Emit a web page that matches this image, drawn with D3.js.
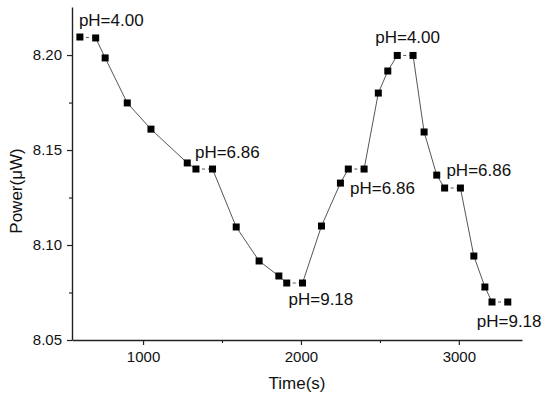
<!DOCTYPE html>
<html>
<head>
<meta charset="utf-8">
<script src="https://cdn.jsdelivr.net/npm/d3@7"></script>
<style>
  body { margin: 0; background: #fff; }
  text { font-family: Arial, "Liberation Sans", sans-serif; fill: #111; }
</style>
</head>
<body>
<svg id="chart" width="550" height="399"></svg>
<script>
// time (s) and power (uW)
const times = [600, 700, 760, 900, 1050, 1280, 1335, 1440, 1590, 1735, 1860, 1910, 2010,
  2130, 2250, 2300, 2400, 2490, 2550, 2610, 2710, 2780, 2860, 2910, 3010, 3095, 3165, 3210, 3310];
const power = [8.2095, 8.209, 8.1985, 8.1748, 8.161, 8.1432, 8.140, 8.140, 8.1095, 8.0916, 8.0837, 8.080, 8.080,
  8.110, 8.1326, 8.140, 8.140, 8.180, 8.1916, 8.1998, 8.1998, 8.1595, 8.1368, 8.130, 8.130, 8.0942, 8.0779, 8.070, 8.070];
// segments (start index) drawn dashed, where the buffer was swapped
const dashedSegs = [0, 6, 11, 15, 19, 23, 27];

const labelText = ["pH=4.00", "pH=6.86", "pH=9.18", "pH=6.86", "pH=4.00", "pH=6.86", "pH=9.18"];
const labelAt = [0, 6, 12, 16, 19, 24, 28];
const labelOffset = [[-1, -11], [-1, -11], [-14, 22], [-14, 25], [-22, -12], [-14, -12], [-31, 25]];

const xTicks = [1000, 2000, 3000];
const xMinor = [1500, 2500];
const yTicks = [8.05, 8.10, 8.15, 8.20];
const yMinor = [8.075, 8.125, 8.175];

const margin = { left: 72, top: 7, right: 28, bottom: 59 };
const svg = d3.select("#chart");
const W = +svg.attr("width"), H = +svg.attr("height");

const x = d3.scaleLinear().domain([550, 3400]).range([margin.left, W - margin.right]);
const y = d3.scaleLinear().domain([8.05, 8.2253]).range([H - margin.bottom, margin.top]);

// minor ticks first so the main axis sits on top
svg.append("g")
  .attr("transform", `translate(0,${y(8.05)})`)
  .call(d3.axisBottom(x).tickValues(xMinor).tickSize(3).tickFormat(""))
  .call(g => g.select(".domain").remove());
svg.append("g")
  .attr("transform", `translate(${margin.left},0)`)
  .call(d3.axisLeft(y).tickValues(yMinor).tickSize(3).tickFormat(""))
  .call(g => g.select(".domain").remove());

const xAxis = svg.append("g")
  .attr("transform", `translate(0,${y(8.05)})`)
  .call(d3.axisBottom(x).tickValues(xTicks).tickSize(5).tickSizeOuter(0).tickPadding(6).tickFormat(d3.format("d")));
const yAxis = svg.append("g")
  .attr("transform", `translate(${margin.left},0)`)
  .call(d3.axisLeft(y).tickValues(yTicks).tickSize(5).tickSizeOuter(0).tickPadding(5).tickFormat(d3.format(".2f")));

[xAxis, yAxis].forEach(g => {
  g.select(".domain").attr("stroke", "#222").attr("stroke-width", 1.4);
  g.selectAll(".tick line").attr("stroke", "#222").attr("stroke-width", 1.2);
  g.selectAll(".tick text").style("font-size", "15px").style("font-family", "Arial, 'Liberation Sans', sans-serif").attr("fill", "#111");
});

// connecting segments
const segs = d3.range(times.length - 1);
svg.append("g").selectAll("line")
  .data(segs)
  .join("line")
  .attr("x1", i => x(times[i]))
  .attr("y1", i => y(power[i]))
  .attr("x2", i => x(times[i + 1]))
  .attr("y2", i => y(power[i + 1]))
  .attr("stroke", "#555")
  .attr("stroke-width", 1)
  .attr("stroke-dasharray", i => dashedSegs.includes(i) ? "3,3" : null);

// square markers
const ms = 7;
svg.append("g").selectAll("rect")
  .data(d3.range(times.length))
  .join("rect")
  .attr("x", i => x(times[i]) - ms / 2)
  .attr("y", i => y(power[i]) - ms / 2)
  .attr("width", ms)
  .attr("height", ms)
  .attr("fill", "#000");

// pH annotations
svg.append("g").selectAll("text")
  .data(labelText)
  .join("text")
  .attr("x", (d, i) => x(times[labelAt[i]]) + labelOffset[i][0])
  .attr("y", (d, i) => y(power[labelAt[i]]) + labelOffset[i][1])
  .style("font-size", "17px")
  .text(d => d);

// axis titles
svg.append("text")
  .attr("x", (x.range()[0] + x.range()[1]) / 2)
  .attr("y", 389)
  .attr("text-anchor", "middle")
  .style("font-size", "17px")
  .text("Time(s)");

svg.append("text")
  .attr("transform", `translate(22,191) rotate(-90)`)
  .attr("text-anchor", "middle")
  .style("font-size", "17px")
  .text("Power(μW)");
</script>
</body>
</html>
